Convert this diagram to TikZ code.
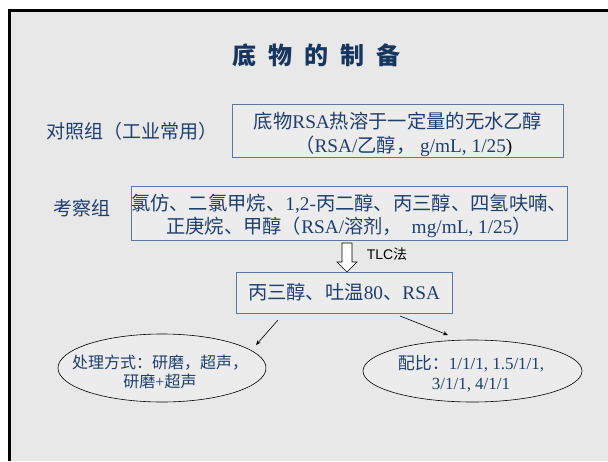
\documentclass[tikz,border=0pt]{standalone}
\usepackage{fontspec}
\setmainfont{Liberation Serif}
\newfontfamily\cjk{Noto Sans CJK SC}
\newfontfamily\sansf{Liberation Sans}
\usetikzlibrary{shapes.geometric,arrows.meta}
\newcommand\zh[1]{{\cjk #1}}
\definecolor{txtblue}{HTML}{1F3F6E}
\definecolor{titleblue}{HTML}{163660}
\definecolor{boxline}{HTML}{5A78A2}
\definecolor{slidebg}{HTML}{E8E8E8}
\definecolor{boxbg}{HTML}{ECECEC}
\tikzset{
  bigtext/.style={text=txtblue, align=center, font=\fontsize{19.3}{24}\selectfont},
  sidelabel/.style={text=txtblue, font=\fontsize{19}{24}\selectfont},
  bluebox/.style={draw=boxline, line width=0.9pt, fill=boxbg, inner sep=0pt},
  oval/.style={ellipse, draw=black, line width=0.6pt, fill=boxbg, inner sep=0pt},
  ovaltext/.style={text=txtblue, align=center, font=\fontsize{17}{19}\selectfont},
  thinarrow/.style={draw=black, line width=0.6pt, -{Stealth[length=5pt,width=4pt]}},
}
\begin{document}
\begin{tikzpicture}[x=1pt,y=-1pt]
\useasboundingbox (0,0) rectangle (608,461);
% slide
\fill[white] (0,0) rectangle (608,461);
\fill[slidebg] (9.5,10.5) rectangle (608,461);
\draw[black, line width=3pt] (9.5,461) -- (9.5,10.5) -- (608,10.5);
% title
\node[text=titleblue, font=\fontsize{24}{28}\selectfont\cjk\bfseries] (title) at (316,55) {底\hspace{0.5em}物\hspace{0.5em}的\hspace{0.5em}制\hspace{0.5em}备};
% row 1
\node[sidelabel] (lab1) at (132,131) {\zh{对照组（工业常用）}};
\node[bluebox, minimum width=331pt, minimum height=53pt] (b1) at (397.5,130.5) {};
\node[bigtext] (b1t) at (398,134) {\zh{底物}RSA\zh{热溶于一定量的无水乙醇}\\\hspace{0.6em}\zh{（}RSA/\zh{乙醇，} g/mL, 1/25{\color{black})}};
% row 2
\node[sidelabel] (lab2) at (82,208) {\zh{考察组}};
\node[bluebox, minimum width=436pt, minimum height=54pt] (b2) at (349,213) {};
\node[bigtext, font=\fontsize{19.3}{23.5}\selectfont] (b2t) at (349,216) {\zh{氯仿、二氯甲烷、}1,2-\zh{丙二醇、丙三醇、四氢呋喃、}\\\zh{正庚烷、甲醇（}RSA/\zh{溶剂，}\ \ mg/mL, 1/25\zh{）}};
% block arrow
\draw[black, line width=0.6pt, fill=white] (342,243) -- (352,243) -- (352,262) -- (357,262) -- (347,272) -- (337,262) -- (342,262) -- cycle;
\node[font=\fontsize{14}{16}\selectfont\sansf, text=black] (tlc) at (387,254) {TLC\zh{法}};
% row 3
\node[bluebox, minimum width=216pt, minimum height=41pt] (b3) at (344,292.5) {};
\node[bigtext] (b3t) at (b3) {\zh{丙三醇、吐温}80\zh{、}RSA};
% ellipses
\node[oval, minimum width=208pt, minimum height=68pt] (e1) at (162,368) {};
\node[ovaltext, font=\fontsize{16}{19}\selectfont] (e1t) at (160,372) {\zh{处理方式：研磨，超声，}\\\zh{研磨}+\zh{超声}};
\node[oval, minimum width=219pt, minimum height=62pt] (e2) at (472.5,371) {};
\node[ovaltext, font=\fontsize{17}{20}\selectfont] (e2t) at (471,374) {\zh{配比：}1/1/1, 1.5/1/1,\\3/1/1, 4/1/1};
% arrows
\coordinate (a1s) at (278,320);
\coordinate (a1e) at (256,345);
\coordinate (a2s) at (400,316);
\coordinate (a2e) at (448,335);
\draw[thinarrow] (a1s) -- (a1e);
\draw[thinarrow] (a2s) -- (a2e);
\end{tikzpicture}
\end{document}
